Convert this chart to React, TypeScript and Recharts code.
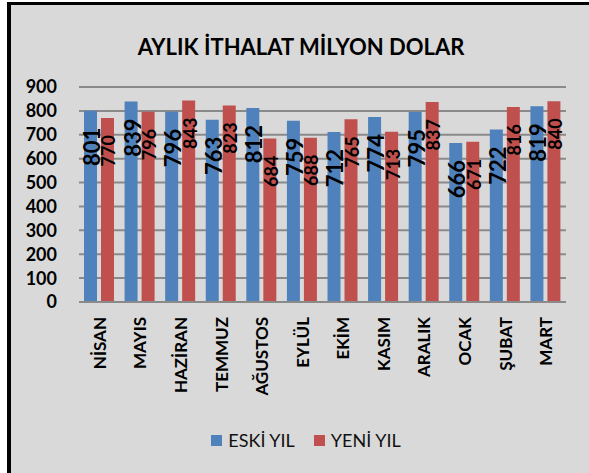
import { Bar, BarChart, CartesianGrid, LabelList, Legend, XAxis, YAxis } from "recharts";

const months = ["NİSAN", "MAYIS", "HAZİRAN", "TEMMUZ", "AĞUSTOS", "EYLÜL", "EKİM", "KASIM", "ARALIK", "OCAK", "ŞUBAT", "MART"];
const eskiYil = [801, 839, 796, 763, 812, 759, 712, 774, 795, 666, 722, 819];
const yeniYil = [770, 796, 843, 823, 684, 688, 765, 713, 837, 671, 816, 840];
const yTicks = [0, 100, 200, 300, 400, 500, 600, 700, 800, 900];

const data = months.map((m, i) => ({ name: m, eski: eskiYil[i], yeni: yeniYil[i] }));

const FONT = "Lato, 'Open Sans', sans-serif";

function barLabel(size: number) {
  return (p: any) => {
    const cx = p.x + p.width / 2 + 1;
    const y = p.y + 17;
    return (
      <text x={cx} y={y} transform={`rotate(-90, ${cx}, ${y})`} textAnchor="end" dominantBaseline="central"
        fontFamily={FONT} fontWeight={700} fontSize={size} fill="#000">
        {p.value}
      </text>
    );
  };
}

function MonthTick(p: any) {
  const { x, y, payload } = p;
  return (
    <text x={x} y={y} transform={`rotate(-90, ${x}, ${y})`} textAnchor="end" dominantBaseline="central"
      fontFamily={FONT} fontWeight={700} fontSize={17} fill="#000">
      {payload.value}
    </text>
  );
}

function LegendBox() {
  const items = [{ label: "ESKİ YIL", color: "#4f81bd" }, { label: "YENİ YIL", color: "#c0504d" }];
  return (
    <div style={{ display: "flex", justifyContent: "center", gap: 19, fontFamily: FONT, fontSize: 18, color: "#111", paddingLeft: 12 }}>
      {items.map((it) => (
        <div key={it.label} style={{ display: "flex", alignItems: "center", gap: 6 }}>
          <span style={{ width: 11, height: 11, background: it.color, display: "inline-block" }} />
          <span>{it.label}</span>
        </div>
      ))}
    </div>
  );
}

export default function App() {
  return (
    <>
      <style>{"html,body{margin:0;overflow:hidden;background:#fff}"}</style>
      <div style={{ position: "absolute", left: 7, top: 2, width: 582, height: 471, boxSizing: "border-box", borderLeft: "4px solid #000", borderTop: "3px solid #000", background: "#d9d9d9", overflow: "hidden" }}>
        <div style={{ position: "absolute", left: 0, top: 28, width: 580, textAlign: "center", fontFamily: FONT, fontWeight: 700, fontSize: 22, color: "#000" }}>
          AYLIK İTHALAT MİLYON DOLAR
        </div>
        <BarChart width={578} height={468} data={data} margin={{ top: 82, right: 23, left: 0, bottom: 0 }} barSize={13} barGap={4}>
          <CartesianGrid vertical={false} stroke="#8a8a8a" strokeWidth={2} />
          <XAxis dataKey="name" interval={0} height={151} tickLine={false} tickSize={0} tickMargin={15} axisLine={{ stroke: "#8a8a8a", strokeWidth: 2 }} tick={<MonthTick />} />
          <YAxis width={68} domain={[0, 900]} ticks={yTicks} interval={0} axisLine={false} tickLine={false} tickSize={0} tickMargin={22}
            tick={{ fill: "#000", fontSize: 18, fontWeight: 700, fontFamily: FONT }} />
          <Legend verticalAlign="bottom" height={20} content={<LegendBox />} wrapperStyle={{ bottom: 24, left: 0, width: 578 }} />
          <Bar dataKey="eski" name="ESKİ YIL" fill="#4f81bd" isAnimationActive={false}>
            <LabelList dataKey="eski" content={barLabel(22)} />
          </Bar>
          <Bar dataKey="yeni" name="YENİ YIL" fill="#c0504d" isAnimationActive={false}>
            <LabelList dataKey="yeni" content={barLabel(18)} />
          </Bar>
        </BarChart>
      </div>
    </>
  );
}
